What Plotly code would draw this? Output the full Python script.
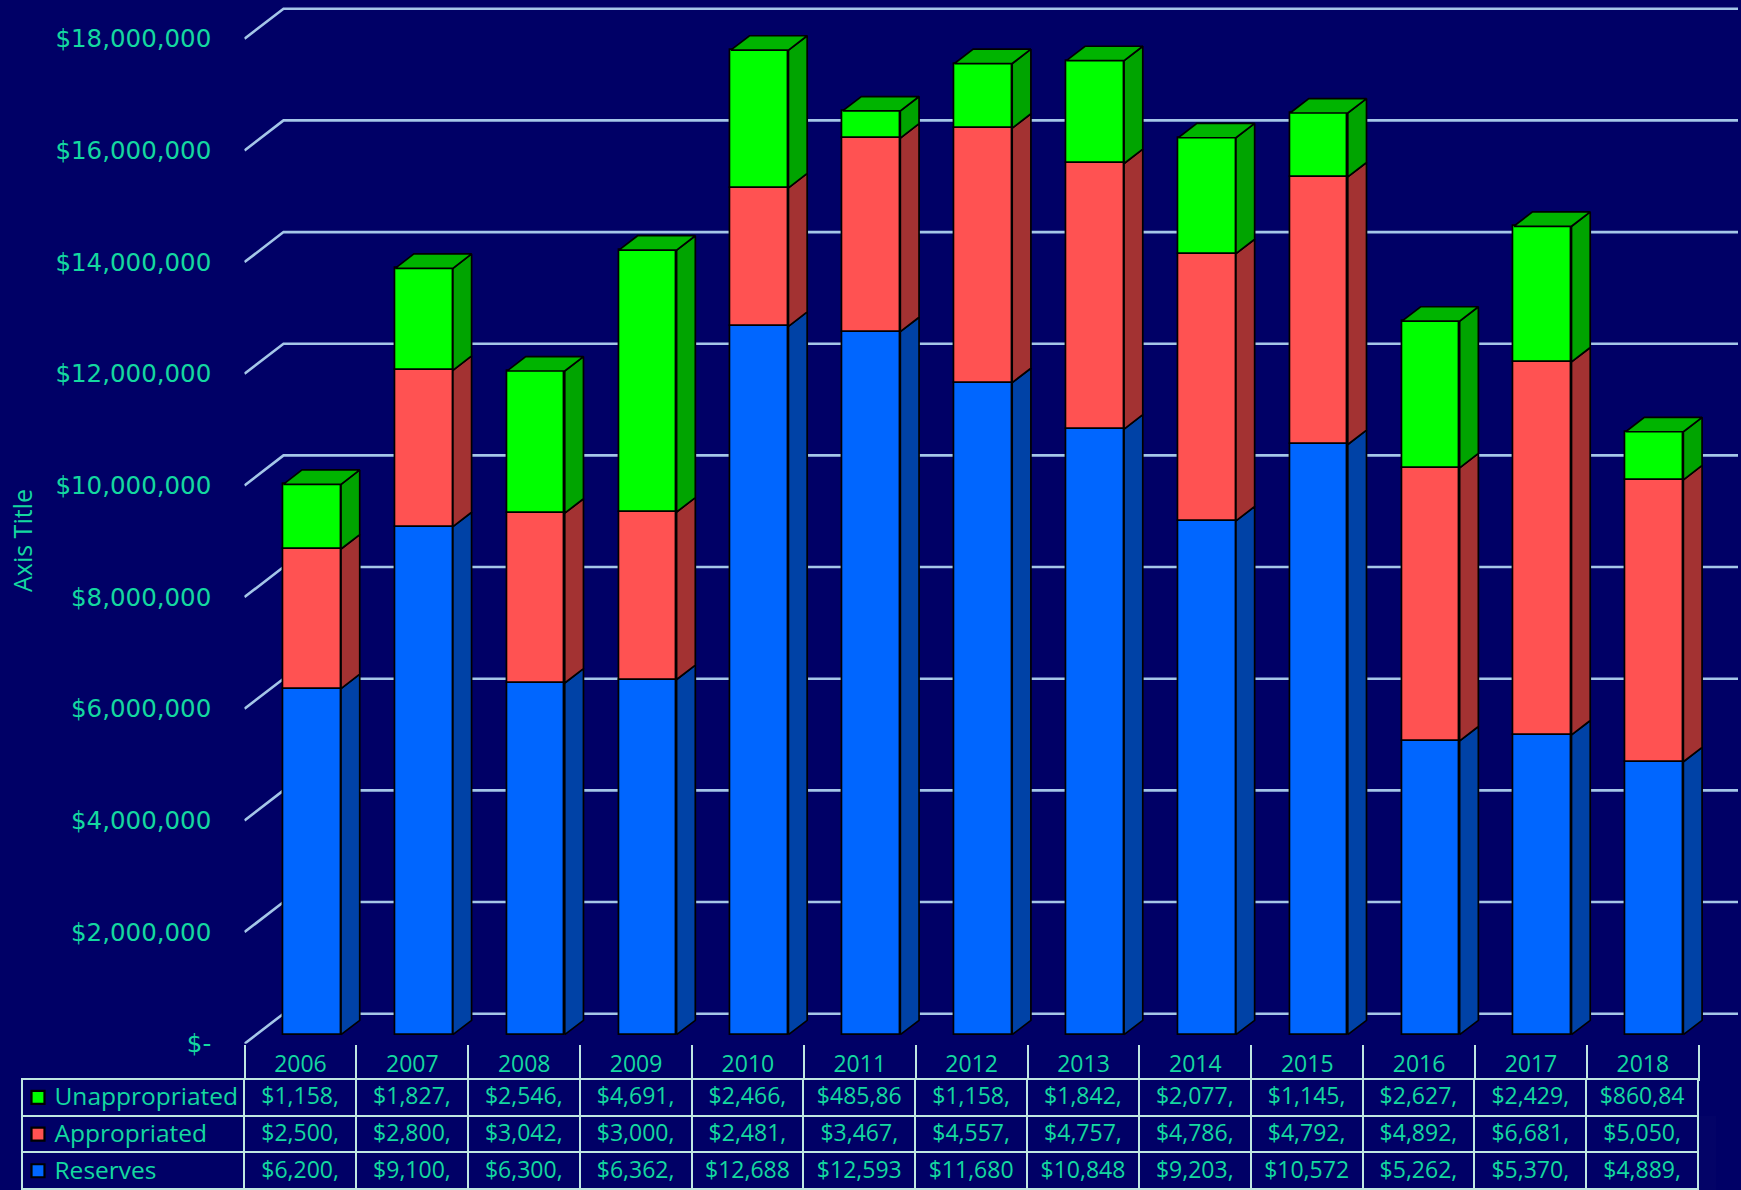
import plotly.graph_objects as go

# ---------------- data ----------------
years = ["2006", "2007", "2008", "2009", "2010", "2011", "2012",
         "2013", "2014", "2015", "2016", "2017", "2018"]
reserves = [6200000, 9100000, 6300000, 6362000, 12688000, 12593000, 11680000,
            10848000, 9203000, 10572000, 5262000, 5370000, 4889000]
appropriated = [2500000, 2800000, 3042000, 3000000, 2481000, 3467000, 4557000,
                4757000, 4786000, 4792000, 4892000, 6681000, 5050000]
unappropriated = [1158000, 1827000, 2546000, 4691000, 2466000, 485860, 1158000,
                  1842000, 2077000, 1145000, 2627000, 2429000, 860840]
series_names = ["Unappropriated", "Appropriated", "Reserves"]
y_tick_values = [0, 2000000, 4000000, 6000000, 8000000, 10000000,
                 12000000, 14000000, 16000000, 18000000]
y_tick_labels = ["$-", "$2,000,000", "$4,000,000", "$6,000,000", "$8,000,000",
                 "$10,000,000", "$12,000,000", "$14,000,000", "$16,000,000",
                 "$18,000,000"]

# ---------------- style / geometry ----------------
FIG_W, FIG_H = 1741, 1190
BG = "#000066"
TEAL = "#14D8A0"
GRID = "#A4C6E8"
TABLE_LINE = "#BFE6E2"
TEXT_FONT = "Open Sans, Roboto, sans-serif"
PLOT_LEFT_PX = 244.3
PLOT_BOTTOM_PX = 1043.7
PX_PER_CAT = 111.88
PX_PER_DOLLAR = 55.83e-6
DX_FULL = 39 / PX_PER_CAT            # floor depth, x direction (category units)
DY_FULL = 30 / PX_PER_DOLLAR         # floor depth, y direction (dollars)
D_FRONT, D_BACK = 0.30, 0.78         # bar front / back depth
BAR_W = 0.516

x_min = -0.5
x_max = x_min + (FIG_W - PLOT_LEFT_PX) / PX_PER_CAT
y_max = PLOT_BOTTOM_PX / PX_PER_DOLLAR
grid_right = x_min + (1738 - PLOT_LEFT_PX) / PX_PER_CAT

colors = {
    "Reserves": ("#0066FF", "#0042A6", None),
    "Appropriated": ("#FF5252", "#A33232", None),
    "Unappropriated": ("#00FF00", "#00A400", "#00B400"),
}


def proj(x, y, d):
    return x + d * DX_FULL, y + d * DY_FULL


idx = list(range(len(years)))
stack_order = [("Reserves", reserves), ("Appropriated", appropriated),
               ("Unappropriated", unappropriated)]

fig = go.Figure()

bottoms = [0.0] * len(years)
side_traces = []
for name, vals in stack_order:
    front, side, top = colors[name]
    fig.add_trace(go.Bar(
        x=[i + D_FRONT * DX_FULL for i in idx],
        y=vals,
        base=[b + D_FRONT * DY_FULL for b in bottoms],
        width=BAR_W,
        marker=dict(color=front, line=dict(color="black", width=1.7)),
        name=name, showlegend=False, hoverinfo="skip",
    ))
    sx, sy = [], []
    for i, b, v in zip(idx, bottoms, vals):
        xr = i + BAR_W / 2
        pts = [proj(xr, b, D_FRONT), proj(xr, b, D_BACK),
               proj(xr, b + v, D_BACK), proj(xr, b + v, D_FRONT),
               proj(xr, b, D_FRONT)]
        sx += [p[0] for p in pts] + [None]
        sy += [p[1] for p in pts] + [None]
    side_traces.append(go.Scatter(
        x=sx, y=sy, mode="lines", fill="toself", fillcolor=side,
        line=dict(color="black", width=1.7), showlegend=False,
        hoverinfo="skip"))
    new_bottoms = [b + v for b, v in zip(bottoms, vals)]
    if top is not None:
        tx, ty = [], []
        for i, t in zip(idx, new_bottoms):
            xl, xr = i - BAR_W / 2, i + BAR_W / 2
            pts = [proj(xl, t, D_FRONT), proj(xl, t, D_BACK),
                   proj(xr, t, D_BACK), proj(xr, t, D_FRONT),
                   proj(xl, t, D_FRONT)]
            tx += [p[0] for p in pts] + [None]
            ty += [p[1] for p in pts] + [None]
        side_traces.append(go.Scatter(
            x=tx, y=ty, mode="lines", fill="toself", fillcolor=top,
            line=dict(color="black", width=1.7), showlegend=False,
            hoverinfo="skip"))
    bottoms = new_bottoms

for tr in side_traces:
    fig.add_trace(tr)

# back-wall gridlines with diagonal floor/side edges
shapes = []
for v in y_tick_values:
    bx, by = proj(x_min, v, 1.0)
    shapes.append(dict(
        type="path", xref="x", yref="y", layer="below",
        path=f"M {x_min},{v} L {bx},{by} L {grid_right},{by}",
        line=dict(color=GRID, width=2.6)))

# data table
def fmt(v):
    return f"${v:,.0f}"[:7]

series_vals = {"Unappropriated": unappropriated, "Appropriated": appropriated,
               "Reserves": reserves}
rows = []
for n in series_names:
    rows.append(["\u2002\u2002" + n] + [fmt(v) for v in series_vals[n]])
# first row goes in the table header slot (styled like the other rows)
first_row = rows[0]
other_cols = [list(col) for col in zip(*rows[1:])]

TABLE_TOP_PX = 1079.0
ROW_H = 36.7
table_left_px = 22
table_right_px = PLOT_LEFT_PX + len(years) * PX_PER_CAT
aligns = ["left"] + ["center"] * len(years)
tfont = dict(family=TEXT_FONT, size=[24.5] + [23] * len(years), color=TEAL)
tline = dict(color=TABLE_LINE, width=2)
fig.add_trace(go.Table(
    domain=dict(x=[table_left_px / FIG_W, table_right_px / FIG_W],
                y=[0, (FIG_H - TABLE_TOP_PX) / FIG_H]),
    columnwidth=[PLOT_LEFT_PX - table_left_px] + [PX_PER_CAT] * len(years),
    header=dict(values=first_row, height=ROW_H, fill=dict(color=BG),
                line=tline, align=aligns, font=tfont),
    cells=dict(values=other_cols, height=ROW_H, fill=dict(color=BG),
               line=tline, align=aligns, font=tfont),
))

# legend keys in the table
for r, n in enumerate(series_names):
    cy = TABLE_TOP_PX + ROW_H * (r + 0.5)
    shapes.append(dict(
        type="rect", xref="paper", yref="paper", layer="above",
        x0=31.5 / FIG_W, x1=44.5 / FIG_W,
        y0=1 - (cy + 6.5) / FIG_H, y1=1 - (cy - 6.5) / FIG_H,
        fillcolor=colors[n][0], line=dict(color="black", width=2.2)))

fig.update_layout(
    width=FIG_W, height=FIG_H,
    margin=dict(l=0, r=0, t=0, b=0, pad=0),
    paper_bgcolor=BG, plot_bgcolor=BG,
    barmode="overlay", bargap=0,
    showlegend=False,
    shapes=shapes,
    xaxis=dict(
        domain=[PLOT_LEFT_PX / FIG_W, 1],
        range=[x_min - 0.002, x_max],
        tickvals=idx, ticktext=years,
        ticks="", showgrid=False, zeroline=False, showline=False,
        automargin=False,
        tickfont=dict(family=TEXT_FONT, size=23, color=TEAL),
        ticklabelstandoff=4,
        minor=dict(tickvals=[i - 0.5 for i in idx] + [idx[-1] + 0.5],
                   ticks="outside", ticklen=36, tickwidth=2,
                   tickcolor=TABLE_LINE, showgrid=False),
    ),
    yaxis=dict(
        domain=[(FIG_H - PLOT_BOTTOM_PX) / FIG_H, 1],
        range=[0, y_max],
        tickvals=y_tick_values, ticktext=y_tick_labels,
        ticks="", showgrid=False, zeroline=False, showline=False,
        automargin=False,
        ticklabelstandoff=32,
        tickfont=dict(family="DejaVu Sans, sans-serif", size=24.5,
                      color=TEAL, weight=500),
    ),
    annotations=[dict(
        text="Axis Title", xref="paper", yref="paper",
        x=22 / FIG_W, y=1 - 541 / FIG_H, showarrow=False, textangle=-90,
        xanchor="center", yanchor="middle",
        font=dict(family=TEXT_FONT, size=25, color=TEAL),
    )],
)

fig.write_html(
    "out.html", config={"displayModeBar": False},
    post_script="document.body.style.margin='0';"
                "document.body.style.overflow='hidden';"
                "document.body.style.background='#000066';")
